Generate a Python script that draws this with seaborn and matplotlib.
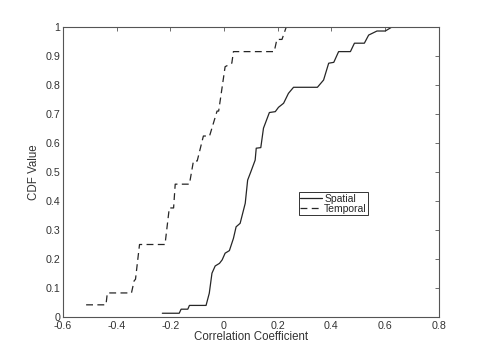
import numpy as np
import pandas as pd
import matplotlib
matplotlib.use('Agg')
import matplotlib.pyplot as plt
import seaborn as sns

# CDF curves (vertices of each curve)
spatial_x = [-0.23, -0.167, -0.16, -0.135, -0.129, -0.067, -0.055, -0.045, -0.033, -0.017,
             -0.007, 0.004, 0.02, 0.035, 0.045, 0.06, 0.079, 0.088, 0.10, 0.116,
             0.12, 0.137, 0.147, 0.169, 0.191, 0.203, 0.222, 0.24, 0.259, 0.348,
             0.371, 0.39, 0.409, 0.427, 0.471, 0.486, 0.523, 0.539, 0.57, 0.601, 0.626]
spatial_y = [0.013, 0.013, 0.027, 0.027, 0.040, 0.040, 0.082, 0.151, 0.176, 0.185,
             0.197, 0.22, 0.229, 0.271, 0.311, 0.323, 0.392, 0.472, 0.501, 0.541,
             0.582, 0.584, 0.651, 0.705, 0.708, 0.723, 0.737, 0.771, 0.792, 0.792,
             0.817, 0.875, 0.878, 0.915, 0.915, 0.944, 0.944, 0.972, 0.986, 0.986, 1.0]

temporal_x = [-0.514, -0.44, -0.435, -0.345, -0.335, -0.33, -0.315, -0.22, -0.204, -0.188,
              -0.182, -0.129, -0.114, -0.1, -0.077, -0.054, -0.026, -0.02, 0.004, 0.029,
              0.035, 0.187, 0.197, 0.216, 0.232]
temporal_y = [0.042, 0.042, 0.083, 0.083, 0.125, 0.13, 0.25, 0.25, 0.376, 0.376,
              0.458, 0.458, 0.538, 0.538, 0.624, 0.624, 0.71, 0.71, 0.863, 0.875,
              0.915, 0.915, 0.957, 0.957, 1.0]

x_ticks = [-0.6, -0.4, -0.2, 0, 0.2, 0.4, 0.6, 0.8]
x_labels = ['-0.6', '-0.4', '-0.2', '0', '0.2', '0.4', '0.6', '0.8']
y_ticks = [0, 0.1, 0.2, 0.3, 0.4, 0.5, 0.6, 0.7, 0.8, 0.9, 1]
y_labels = ['0', '0.1', '0.2', '0.3', '0.4', '0.5', '0.6', '0.7', '0.8', '0.9', '1']

sns.set_style('white')
plt.rcParams['font.family'] = ['Liberation Sans', 'DejaVu Sans']
plt.rcParams['xtick.direction'] = 'in'
plt.rcParams['ytick.direction'] = 'in'

fig = plt.figure(figsize=(4.85, 3.57), dpi=100)
ax = fig.add_axes([0.130, 0.112, 0.7745, 0.8125])

line_col = '#262626'
sns.lineplot(x=spatial_x, y=spatial_y, sort=False, estimator=None, ax=ax,
             color=line_col, linewidth=0.9, label='Spatial')
sns.lineplot(x=temporal_x, y=temporal_y, sort=False, estimator=None, ax=ax,
             color=line_col, linewidth=0.9, label='Temporal', linestyle=(0, (5.5, 3.5)))

ax.set_xlim(-0.6, 0.8)
ax.set_ylim(0, 1)
ax.set_xticks(x_ticks)
ax.set_xticklabels(x_labels)
ax.set_yticks(y_ticks)
ax.set_yticklabels(y_labels)

axis_col = '#555555'
text_col = '#333333'
for s in ax.spines.values():
    s.set_color(axis_col)
    s.set_linewidth(0.8)
ax.tick_params(which='both', direction='in', length=3, width=0.6, color=axis_col,
               labelcolor=text_col, labelsize=7.7, top=True, right=True)
ax.tick_params(axis='x', pad=3)
ax.tick_params(axis='y', pad=2)

ax.set_xlabel('Correlation Coefficient', fontsize=8.3, color=text_col, labelpad=0)
ax.set_ylabel('CDF Value', fontsize=8.3, color=text_col, labelpad=4)

leg = ax.legend(loc='upper left', bbox_to_anchor=(0.628, 0.43), fontsize=7.5,
                frameon=True, fancybox=False, edgecolor=text_col, framealpha=1,
                borderpad=0.12, handlelength=2.1, handletextpad=0.2,
                labelspacing=0.0, borderaxespad=0)
leg.get_frame().set_linewidth(0.7)

fig.savefig('out.png', dpi=100)
